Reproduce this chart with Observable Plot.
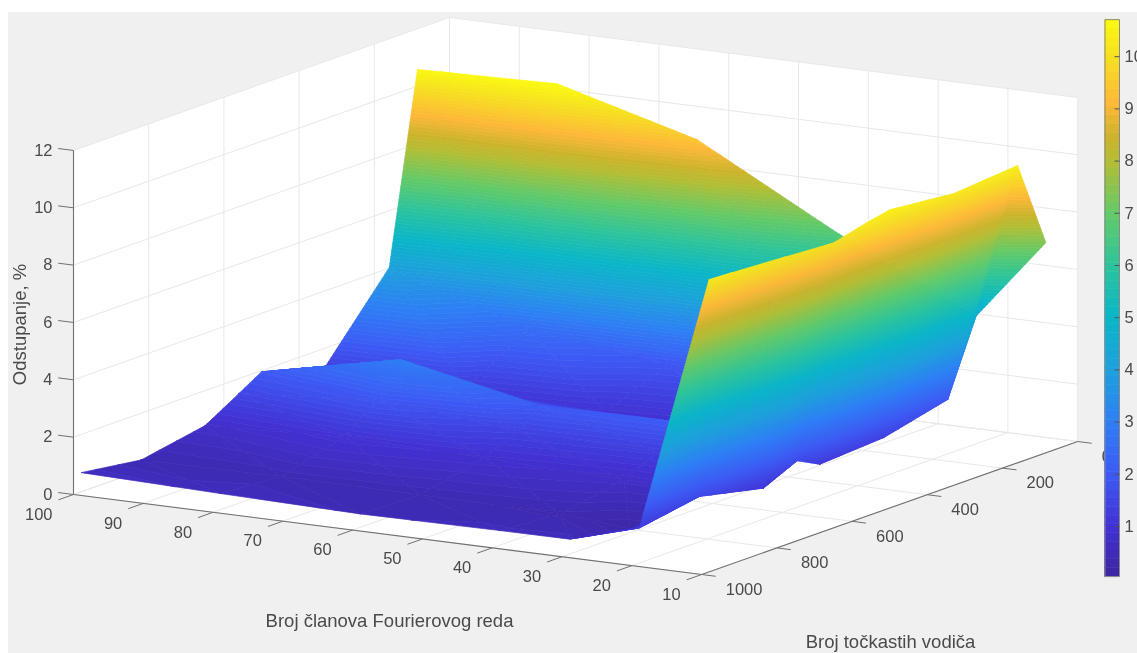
<!DOCTYPE html>
<html>
<head>
<meta charset="utf-8">
<script src="https://cdn.jsdelivr.net/npm/d3@7"></script>
<script src="https://cdn.jsdelivr.net/npm/@observablehq/plot@0.6"></script>
<style>
html,body{margin:0;padding:0;background:#fff;overflow:hidden}
#chart svg{display:block}
</style>
</head>
<body>
<div id="chart"></div>
<script>
try {
// Surface grid
const fourierTerms = [100, 80, 60, 40, 30, 20, 10];
const pointConductors = [85, 160, 330, 500, 560, 650, 820, 980];
const dev85  = [10.58, 10.70, 9.38, 6.76, 5.60, 4.45, 7.33];
const dev160 = [4.02, 2.50, 1.90, 1.50, 1.60, 1.90, 10.37];
const dev330 = [1.36, 1.20, 1.00, 0.85, 0.90, 1.36, 10.18];
const dev500 = [1.96, 3.00, 2.02, 2.05, 2.00, 1.22, 10.40];
const dev560 = [1.48, 1.90, 1.40, 1.30, 1.40, 1.62, 10.24];
const dev650 = [0.78, 1.00, 0.90, 0.75, 0.75, 1.08, 9.94];
const dev820 = [0.37, 0.42, 0.40, 0.35, 0.15, 1.58, 10.08];
const dev980 = [0.67, 0.56, 0.47, 0.51, 0.52, 1.22, 10.20];
const deviation = [dev85, dev160, dev330, dev500, dev560, dev650, dev820, dev980];

// Axis ticks
const xTicks = [100, 90, 80, 70, 60, 50, 40, 30, 20, 10];
const yTicks = [0, 200, 400, 600, 800, 1000];
const zTicks = [0, 2, 4, 6, 8, 10, 12];
const barTicks = [1, 2, 3, 4, 5, 6, 7, 8, 9, 10];

// Colour map
const cStops = [0.04, 1, 2, 3, 4, 5, 6, 7, 8, 8.45, 9.1, 10, 10.71];
const cColors = ["#3c26a0", "#4232d4", "#3d5af5", "#2e7ff5", "#1ea0dc", "#0ab6c8", "#2cc49c", "#64ca68", "#b4be34", "#ccb42c", "#fdb838", "#f6e020", "#fbfb10"];

// View of the 3-D box on the page
const P = (x, y, z) => ({
  sx: 73 + (100 - x) * 6.98 + (1000 - y) * 0.376,
  sy: 494 + (100 - x) * 0.889 - (1000 - y) * 0.133 - z * 28.67
});

// Slice triangles into constant colour bands
const zMin = 0.04, zMax = 10.71, nLevels = 96, step = (zMax - zMin) / nLevels;
function clip(poly, level, keepAbove) {
  const out = [];
  for (let i = 0; i < poly.length; i++) {
    const a = poly[i], b = poly[(i + 1) % poly.length];
    const ina = keepAbove ? a.z >= level : a.z <= level;
    const inb = keepAbove ? b.z >= level : b.z <= level;
    if (ina) out.push(a);
    if (ina !== inb) {
      const t = (level - a.z) / (b.z - a.z);
      out.push({sx: a.sx + t * (b.sx - a.sx), sy: a.sy + t * (b.sy - a.sy), z: level});
    }
  }
  return out;
}
const surface = [];
let pid = 0;
function addTriangle(tri) {
  const zs = tri.map(d => d.z);
  const lo = Math.max(0, Math.floor((d3.min(zs) - zMin) / step));
  const hi = Math.min(nLevels - 1, Math.floor((d3.max(zs) - zMin) / step));
  for (let k = lo; k <= hi; k++) {
    const a = zMin + k * step, b = a + step;
    const poly = clip(clip(tri, a, true), b, false);
    if (poly.length < 3) continue;
    pid++;
    const v = a + step / 2;
    // closed ring, so that the stroke also runs along the last edge
    for (const p of [...poly, poly[0]]) surface.push({sx: p.sx, sy: p.sy, id: pid, v});
  }
}
const vertex = (j, i) => {
  const p = P(fourierTerms[i], pointConductors[j], deviation[j][i]);
  return {sx: p.sx, sy: p.sy, z: deviation[j][i]};
};
// Painter's order: far corner (x large, y small) first
for (let j = 0; j < pointConductors.length - 1; j++) {
  for (let i = 0; i < fourierTerms.length - 1; i++) {
    const ac = vertex(j, i), bc = vertex(j, i + 1), ad = vertex(j + 1, i), bd = vertex(j + 1, i + 1);
    addTriangle([ac, bc, bd]);
    addTriangle([ac, ad, bd]);
  }
}

// Walls and floor silhouette
const box = [P(100,1000,0), P(100,1000,12), P(100,0,12), P(10,0,12), P(10,0,0), P(10,1000,0)];

// Grid lines
const seg = (a, b) => ({x1: a.sx, y1: a.sy, x2: b.sx, y2: b.sy});
const grid = [];
for (const x of xTicks) { grid.push(seg(P(x,1000,0), P(x,0,0))); grid.push(seg(P(x,0,0), P(x,0,12))); }
for (const y of yTicks) { grid.push(seg(P(10,y,0), P(100,y,0))); grid.push(seg(P(100,y,0), P(100,y,12))); }
for (const z of zTicks) { grid.push(seg(P(100,1000,z), P(100,0,z))); grid.push(seg(P(100,0,z), P(10,0,z))); }

// Axes and ticks
const axes = [seg(P(100,1000,0), P(100,1000,12)), seg(P(100,1000,0), P(10,1000,0)), seg(P(10,1000,0), P(10,0,0))];
const ticks = [];
for (const x of xTicks) ticks.push(seg(P(x,1000,0), P(x,1040,0)));
for (const y of yTicks) ticks.push(seg(P(10,y,0), P(8,y,0)));
for (const z of zTicks) ticks.push(seg(P(100,1000,z), P(102.2,1000,z)));
const xLabels = xTicks.map(t => ({t, ...P(t,1000,0)}));
const yLabels = yTicks.map(t => ({t, ...P(10,t,0)}));
const zLabels = zTicks.map(t => ({t, ...P(100,1000,t)}));

// Colour bar
const barY = v => 526 - (v - 1) * 52.2;
const barBins = d3.range(64).map(k => {
  const w = (zMax - zMin) / 64, a = zMin + k * w;
  return {y1: barY(a), y2: barY(a + w), v: a + w / 2};
});
const barLabels = barTicks.map(t => ({t, y: barY(t)}));
const barFrame = [[zMin, 1104.5], [zMax, 1104.5], [zMax, 1119], [zMin, 1119], [zMin, 1104.5]].map(([v, x]) => ({x, y: barY(v)}));

const fontName = "'Liberation Sans', Arial, Helvetica, sans-serif";
const ink = "#4a4a4a";
const axisText = (data, o) => Plot.text(data, {x: "sx", y: "sy", text: d => String(d.t), fill: ink, fontSize: 16.5, ...o});

const plot = Plot.plot({
  width: 1137,
  height: 653,
  margin: 0,
  style: {background: "transparent", fontFamily: fontName},
  x: {domain: [0, 1137], range: [0, 1137], axis: null},
  y: {domain: [0, 653], range: [0, 653], axis: null},
  color: {type: "linear", domain: cStops, range: cColors, interpolate: "rgb", clamp: true},
  marks: [
    Plot.rect([{}], {x1: () => 8, x2: () => 1137, y1: () => 12, y2: () => 653, fill: "#f0f0f0"}),
    Plot.line(box, {x: "sx", y: "sy", fill: "#ffffff", stroke: "none"}),
    Plot.link(grid, {x1: "x1", y1: "y1", x2: "x2", y2: "y2", stroke: "#e8e8e8", strokeWidth: 1}),
    Plot.link(axes, {x1: "x1", y1: "y1", x2: "x2", y2: "y2", stroke: "#707070", strokeWidth: 1.1}),
    Plot.link(ticks, {x1: "x1", y1: "y1", x2: "x2", y2: "y2", stroke: "#707070", strokeWidth: 1}),
    Plot.line(surface, {x: "sx", y: "sy", z: "id", fill: "v", stroke: "v", strokeWidth: 0.7}),
    axisText(xLabels, {dx: -21, dy: 20, textAnchor: "end"}),
    axisText(yLabels, {dx: 24, dy: 15, textAnchor: "start"}),
    axisText(zLabels, {dx: -21, dy: 0, textAnchor: "end"}),
    Plot.rect(barBins, {x1: () => 1104.5, x2: () => 1119, y1: "y1", y2: "y2", fill: "v", stroke: "v", strokeWidth: 0.5}),
    Plot.line(barFrame, {x: "x", y: "y", stroke: "#8a8a8a", strokeWidth: 1}),
    Plot.link(barLabels, {x1: () => 1114, x2: () => 1119, y1: "y", y2: "y", stroke: "#555", strokeWidth: 1}),
    Plot.text(barLabels, {x: () => 1124, y: "y", text: d => String(d.t), fill: ink, fontSize: 16.5, textAnchor: "start"}),
    Plot.text(["Odstupanje, %"], {x: () => 20, y: () => 324, rotate: -90, fill: ink, fontSize: 18.5}),
    Plot.text(["Broj članova Fourierovog reda"], {x: () => 389, y: () => 621, fill: ink, fontSize: 18.5}),
    Plot.text(["Broj točkastih vodiča"], {x: () => 890, y: () => 642, fill: ink, fontSize: 18.5})
  ]
});
plot.style.filter = "blur(0.6px)";
document.getElementById("chart").appendChild(plot);
} catch (e) {
  document.body.innerHTML = "<pre style='font:14px monospace;white-space:pre-wrap'>" + String(e && e.stack || e) + "</pre>";
}
</script>
</body>
</html>
